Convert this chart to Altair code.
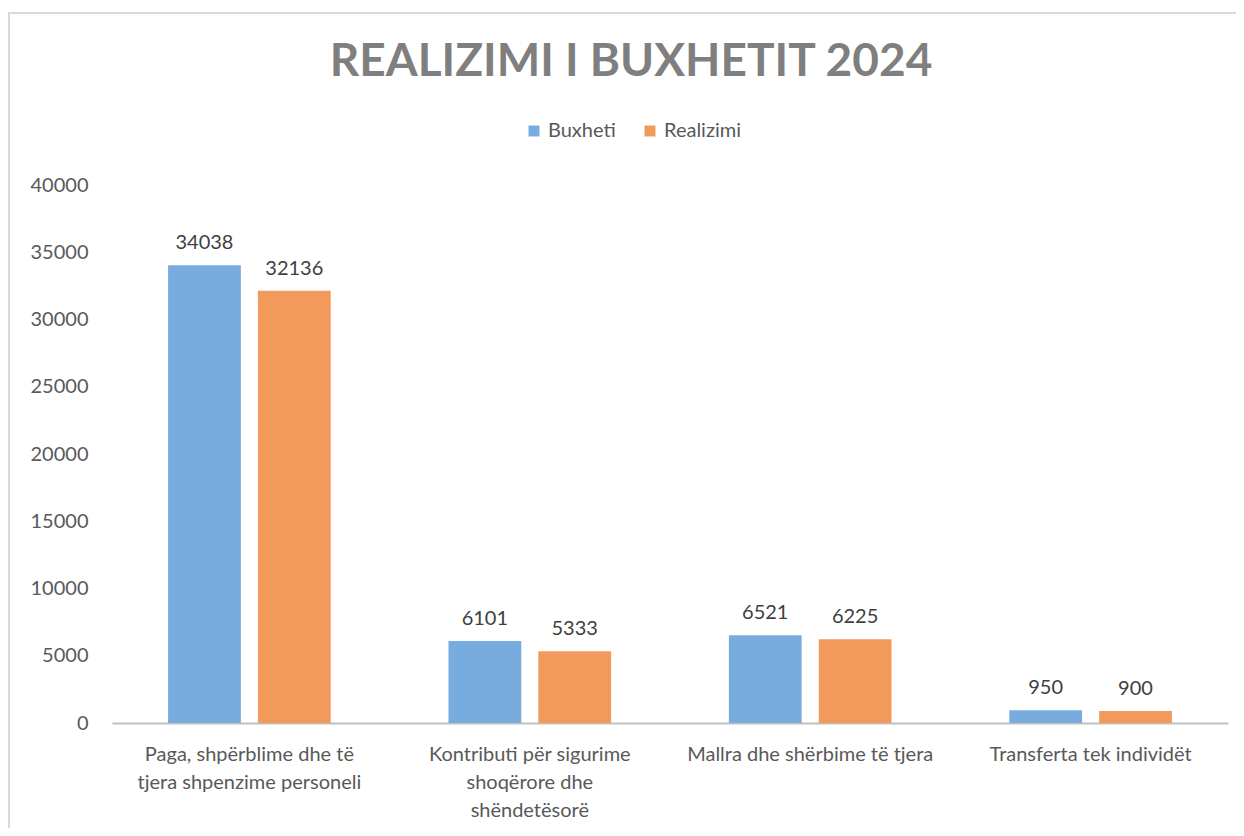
import altair as alt
import pandas as pd
import json

categories = [
    "Paga, shpërblime dhe të tjera shpenzime personeli",
    "Kontributi për sigurime shoqërore dhe shëndetësorë",
    "Mallra dhe shërbime të tjera",
    "Transferta tek individët",
]
label_lines = [
    ["Paga, shpërblime dhe të", "tjera shpenzime personeli"],
    ["Kontributi për sigurime", "shoqërore dhe", "shëndetësorë"],
    ["Mallra dhe shërbime të tjera"],
    ["Transferta tek individët"],
]
series = ["Buxheti", "Realizimi"]
buxheti = [34038, 6101, 6521, 950]
realizimi = [32136, 5333, 6225, 900]
y_ticks = [0, 5000, 10000, 15000, 20000, 25000, 30000, 35000, 40000]

rows = []
for c, b, r in zip(categories, buxheti, realizimi):
    rows.append({"cat": c, "series": "Buxheti", "value": b})
    rows.append({"cat": c, "series": "Realizimi", "value": r})
df = pd.DataFrame(rows)

mapping = "{" + ",".join(
    json.dumps(c, ensure_ascii=False) + ":" + json.dumps(l, ensure_ascii=False)
    for c, l in zip(categories, label_lines)
) + "}"
label_expr = mapping + "[datum.label]"

FONT = "Lato"
TXT = "#595959"

x_enc = alt.X(
    "cat:N",
    sort=categories,
    title=None,
    scale=alt.Scale(paddingInner=0.42, paddingOuter=0.2),
    axis=alt.Axis(
        labelExpr=label_expr,
        labelAngle=0,
        labelFontSize=20,
        labelColor=TXT,
        labelFont=FONT,
        labelLineHeight=28,
        labelPadding=21,
        ticks=False,
        domainColor="#bfbfbf",
        domainWidth=2,
        labelLimit=400,
    ),
)
xoff = alt.XOffset("series:N", sort=series, scale=alt.Scale(paddingInner=0.19, paddingOuter=0))
y_enc = alt.Y(
    "value:Q",
    title=None,
    scale=alt.Scale(domain=[0, 40000]),
    axis=alt.Axis(
        values=y_ticks,
        format="d",
        grid=False,
        domain=False,
        ticks=False,
        labelFontSize=20,
        labelColor=TXT,
        labelFont=FONT,
        labelPadding=24,
    ),
)
color = alt.Color(
    "series:N",
    sort=series,
    scale=alt.Scale(domain=series, range=["#78abde", "#f29a5c"]),
    legend=alt.Legend(
        title=None,
        orient="none",
        legendX=412,
        legendY=-64,
        direction="horizontal",
        symbolType="square",
        symbolSize=120,
        labelFontSize=20,
        labelColor=TXT,
        labelFont=FONT,
        columnPadding=24,
    ),
)

base = alt.Chart(df)
bars = base.mark_bar(stroke=None).encode(x=x_enc, xOffset=xoff, y=y_enc, color=color)
texts = base.mark_text(dy=-22, fontSize=20, color="#404040", font=FONT).encode(
    x=x_enc, xOffset=xoff, y=y_enc, text=alt.Text("value:Q", format="d")
)
frame = alt.Chart(pd.DataFrame({"a": [0]})).mark_rect(
    fill=None, stroke="#d9d9d9", strokeWidth=2
).encode(
    x=alt.value(-103), x2=alt.value(1180), y=alt.value(-172), y2=alt.value(700)
)

chart = alt.layer(frame, bars, texts).properties(
    width=1116,
    height=538,
    autosize=alt.AutoSizeParams(type="none"),
    padding={"left": 104, "top": 177, "right": 8, "bottom": 105},
    title=alt.Title(
        "REALIZIMI I BUXHETIT 2024",
        fontSize=46,
        font=FONT,
        fontWeight="bold",
        color="#7f7f7f",
        anchor="middle",
        dx=-39,
        offset=-74,
    ),
).configure_view(stroke=None)

chart.save("out.html", embed_options={"renderer": "svg", "actions": False})
